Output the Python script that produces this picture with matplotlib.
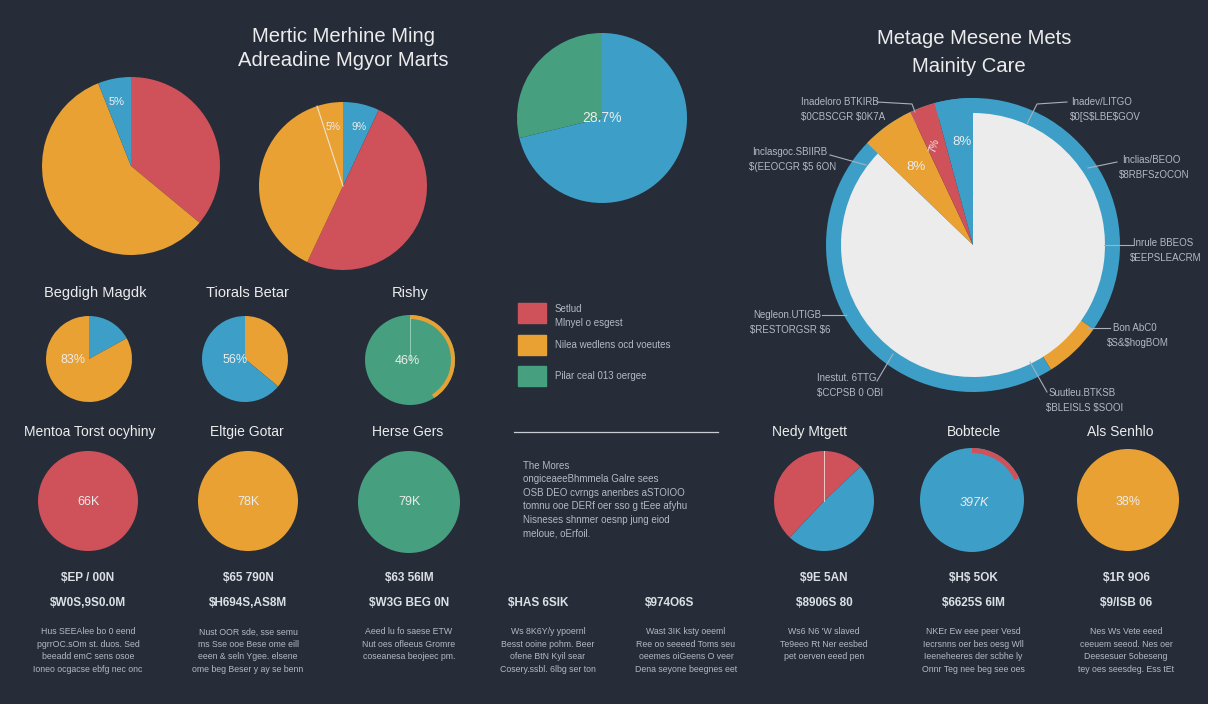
import matplotlib.pyplot as plt
import numpy as np

W, H = 1208, 704
BG = '#262d39'
RED, ORANGE, BLUE, GREEN, WHITE = '#cf515a', '#e9a134', '#3d9fc7', '#46a07f', '#ececec'
TXT = '#ececec'
SUB = '#b4b9c2'
plt.rcParams['font.family'] = ['Liberation Sans', 'DejaVu Sans']

# ---- data (clockwise from 12 o'clock) ----
tl_vals, tl_cols = [36, 58, 6], [RED, ORANGE, BLUE]
tm_vals, tm_cols = [7, 50, 38, 5], [BLUE, RED, ORANGE, ORANGE]
tc_vals, tc_cols = [71.2, 28.8], [BLUE, GREEN]
ring_vals, ring_cols = [34.7, 6.4, 58.9], [BLUE, ORANGE, BLUE]
big_vals = [87.2, 5.8, 2.8, 4.2]
big_cols = [WHITE, ORANGE, RED, BLUE]
r2a_vals, r2a_cols = [17, 83], [BLUE, ORANGE]
r2b_vals, r2b_cols = [36, 64], [ORANGE, BLUE]
r2c_ring = [41, 59]
nedy_vals, nedy_cols = [13, 49, 38], [RED, BLUE, RED]
bob_ring = [18, 82]

big_title = ["Mertic Merhine Ming", "Adreadine Mgyor Marts"]
right_title = ["Metage Mesene Mets", "Mainity Care"]
row2_titles = ["Begdigh Magdk", "Tiorals Betar", "Rishy"]
row3_titles = ["Mentoa Torst ocyhiny", "Eltgie Gotar", "Herse Gers",
               "Nedy Mtgett", "Bobtecle", "Als Senhlo"]

big_labels = [("Inadeloro BTKIRB", "$0CBSCGR $0K7A"), ("Inadev/LITGO", "$0[S$LBE$GOV"),
              ("Inclasgoc.SBIIRB", "$(EEOCGR $5 6ON"), ("Inclias/BEOO", "$8RBFSzOCON"),
              ("Inrule BBEOS", "$EEPSLEACRM"), ("Negleon.UTIGB", "$RESTORGSR $6"),
              ("Bon AbC0", "$S&$hogBOM"), ("Inestut. 6TTG", "$CCPSB 0 OBI"),
              ("Suutleu.BTKSB", "$BLEISLS $SOOI")]

legend_rows = [(RED, "Setlud\nMlnyel o esgest"), (ORANGE, "Nilea wedlens ocd voeutes"),
               (GREEN, "Pilar ceal 013 oergee")]
notes = ["The Mores",
         "ongiceaeeBhmmela Galre sees",
         "OSB DEO cvrngs anenbes aSTOIOO",
         "tomnu ooe DERf oer sso g tEee afyhu",
         "Nisneses shnmer oesnp jung eiod",
         "meloue, oErfoil."]

val_top = ["$EP / 00N", "$65 790N", "$63 56IM", "", "", "$9E 5AN", "$H$ 5OK", "$1R 9O6"]
val_mid = ["$W0S,9S0.0M", "$H694S,AS8M", "$W3G BEG 0N", "$HAS 6SIK", "$974O6S",
           "$8906S 80", "$6625S 6IM", "$9/ISB 06"]
bodies = [
    ["Hus SEEAlee bo 0 eend", "pgrrOC.sOm st. duos. Sed", "beeadd emC sens osoe", "Ioneo ocgacse ebfg nec onc"],
    ["Nust OOR sde, sse semu", "ms Sse ooe Bese ome eill", "eeen & seln Ygee. elsene", "ome beg Beser y ay se benn"],
    ["Aeed lu fo saese ETW", "Nut oes ofleeus Gromre", "coseanesa beojeec pm."],
    ["Ws 8K6Y/y ypoernl", "Besst ooine pohm. Beer", "ofene BtN Kyil sear", "Cosery.ssbl. 6lbg ser ton"],
    ["Wast 3IK ksty oeeml", "Ree oo seeeed Toms seu", "oeemes oiGeens O veer", "Dena seyone beegnes eet"],
    ["Ws6 N6 'W slaved", "Te9eeo Rt Ner eesbed", "pet oerven eeed pen"],
    ["NKEr Ew eee peer Vesd", "Iecrsnns oer bes oesg Wll", "Ieeneheeres der scbhe ly", "Onnr Teg nee beg see oes"],
    ["Nes Ws Vete eeed", "ceeuem seeod. Nes oer", "Deesesuer 5obeseng", "tey oes seesdeg. Ess tEt"],
]

fig = plt.figure(figsize=(W / 100, H / 100), dpi=100, facecolor=BG)
ax = fig.add_axes([0, 0, 1, 1], facecolor=BG)


def txt(x, y, s, size, color=TXT, **kw):
    kw.setdefault('ha', 'center')
    kw.setdefault('va', 'center')
    ax.text(x, H - y, s, fontsize=size, color=color, parse_math=False, **kw)


def pie(vals, cols, x, y, r, width=None):
    wp = dict(linewidth=0)
    if width:
        wp['width'] = width
    ax.pie(vals, colors=cols, center=(x, H - y), radius=r, startangle=90,
           counterclock=False, wedgeprops=wp, frame=True)


def sep(vals, k, x, y, r, color='#f3e6cc', lw=0.8):
    # thin line at the boundary after the k-th slice
    a = np.deg2rad(90 - 360 * sum(vals[:k]) / sum(vals))
    ax.plot([x, x + r * np.cos(a)], [H - y, H - y + r * np.sin(a)], color=color, lw=lw)


# ---- top row ----
pie(tl_vals, tl_cols, 131, 166, 89)
txt(117, 102, "5%", 8, color='#f2f2f2')
pie(tm_vals, tm_cols, 343, 186, 84)
sep(tm_vals, 3, 343, 186, 84)
txt(333, 127, "5%", 7.5)
txt(359, 127, "9%", 7.5)
pie(tc_vals, tc_cols, 602, 118, 85)
txt(602, 118, "28.7%", 10)

txt(343, 37, big_title[0], 14.6)
txt(343, 61, big_title[1], 14.6)
txt(974, 38, right_title[0], 14.6)
txt(969, 66, right_title[1], 14.6)

# ---- big pie ----
pie(ring_vals, ring_cols, 973, 245, 147, width=16)
pie(big_vals, ['none'] + big_cols[1:], 973, 245, 147)
pie(big_vals, [WHITE, 'none', 'none', 'none'], 973, 245, 132)
txt(916, 167, "8%", 9.5)
txt(962, 142, "8%", 9.5)
txt(934, 145, "7%", 7, rotation=75)

lab_pos = [(840, 102), (1102, 102), (790, 152), (1151, 160), (1163, 243),
           (787, 315), (1135, 328), (847, 378), (1082, 393)]
lead = [[(877, 102), (912, 104), (915, 112)], [(1067, 102), (1037, 104), (1027, 124)],
        [(830, 155), (866, 165)], [(1117, 162), (1088, 168)], [(1133, 245), (1104, 245)],
        [(822, 315), (846, 315)], [(1110, 328), (1087, 328)], [(877, 381), (893, 354)],
        [(1047, 392), (1030, 362)]]
for (lx, ly), (l1, l2), pts in zip(lab_pos, big_labels, lead):
    txt(lx, ly, l1, 7, color=SUB)
    txt(lx + 3, ly + 15, l2, 7, color=SUB)
    px, py = zip(*pts)
    ax.plot(px, [H - v for v in py], color='#aab0ba', lw=0.8)

# ---- row 2 ----
for t, x in zip(row2_titles, [95, 247, 410]):
    txt(x, 293, t, 10.5)
pie(r2a_vals, r2a_cols, 89, 359, 43)
txt(73, 360, "83%", 9)
pie(r2b_vals, r2b_cols, 245, 359, 43)
txt(235, 360, "56%", 9)
pie([1], [GREEN], 410, 360, 45)
pie(r2c_ring, [ORANGE, 'none'], 410, 360, 45, width=4)
sep([1], 0, 410, 360, 42, color='#9ed3bd', lw=0.6)
txt(407, 361, "46%", 9)

# ---- legend + notes ----
for (c, s), y in zip(legend_rows, [313, 345, 376]):
    ax.add_patch(plt.Rectangle((518, H - y - 10), 28, 20, color=c))
    txt(555, y + (3 if '\n' in s else 0), s, 7, color=SUB, ha='left', linespacing=1.5)
ax.plot([514, 718], [H - 432, H - 432], color='#c9ccd2', lw=0.9)
for i, s in enumerate(notes):
    txt(523, 466 + 13.4 * i, s, 7, color=SUB, ha='left')

# ---- row 3 ----
for t, x in zip(row3_titles, [90, 247, 408, 810, 974, 1120]):
    txt(x, 432, t, 10)
pie([1], [RED], 88, 501, 50)
txt(88, 502, "66K", 9)
pie([1], [ORANGE], 248, 501, 50)
txt(248, 502, "78K", 9)
pie([1], [GREEN], 409, 502, 51)
txt(409, 502, "79K", 9)
pie(nedy_vals, nedy_cols, 824, 501, 50)
sep(nedy_vals, 0, 824, 501, 50, color='#f0c8c8', lw=0.7)
pie([1], [BLUE], 972, 500, 52)
pie(bob_ring, [RED, 'none'], 972, 500, 52, width=5)
txt(974, 503, "397K", 9, style='italic')
pie([1], [ORANGE], 1128, 500, 51)
txt(1128, 502, "38%", 9)

# ---- bottom value columns ----
col_x = [88, 248, 409, 548, 686, 824, 973, 1126]
mid_dx = [0, 0, 0, -10, -16, 0, 0, 0]
for x, dx, t, m, body in zip(col_x, mid_dx, val_top, val_mid, bodies):
    if t:
        txt(x, 578, t, 8.5, color='#dcdfe4', weight='bold')
    txt(x + dx, 603, m, 8.5, color='#dcdfe4', weight='bold')
    for j, line in enumerate(body):
        txt(x, 632 + 12.4 * j, line, 6.3, color=SUB)

ax.set_xlim(0, W)
ax.set_ylim(0, H)
ax.set_aspect('equal')
ax.axis('off')
fig.savefig('out.png', dpi=100, facecolor=BG)
